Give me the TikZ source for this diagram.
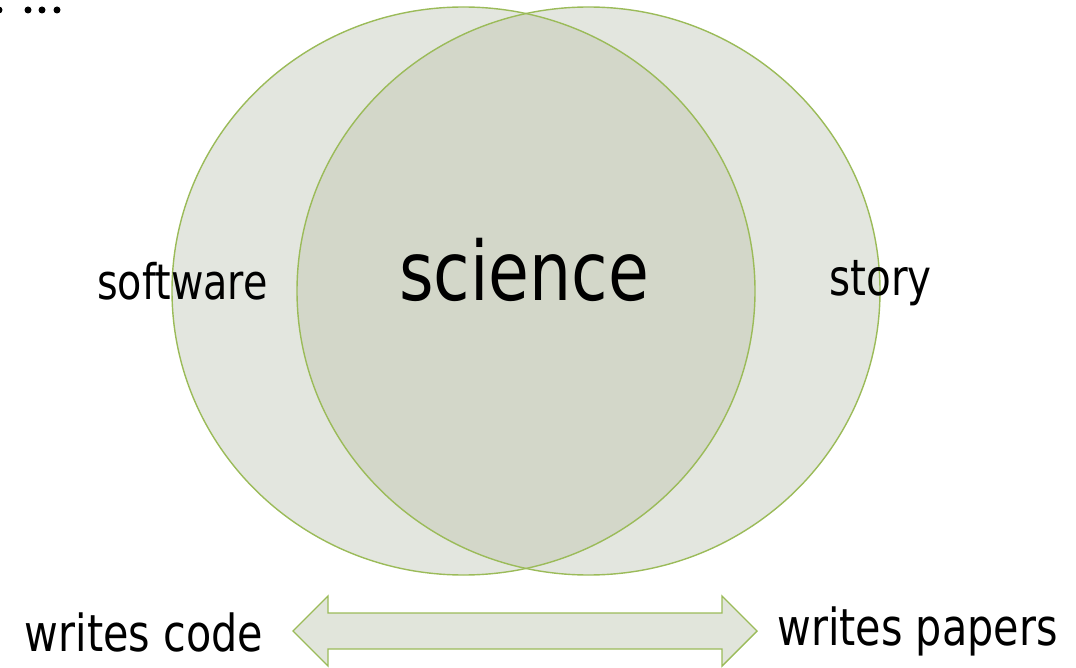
\documentclass[tikz,border=0pt]{standalone}
\usepackage{fontspec}
\setmainfont{DejaVu Sans}
\definecolor{vennline}{HTML}{9BBB59}
\definecolor{vennfill}{HTML}{E3E6DF}
\definecolor{venncore}{HTML}{D3D7C9}
\definecolor{arrowfill}{HTML}{E1E5DB}
\tikzset{
  label text/.style={inner sep=0pt, anchor=base, text=black},
  ring/.style={draw=vennline, line width=1.4pt},
  dot/.style={fill=black},
}
\newcommand{\narrow}[2]{\fontsize{#1}{#1}\selectfont\scalebox{0.81}[1]{#2}}
\begin{document}
\begin{tikzpicture}[x=1pt,y=-1pt]
  \useasboundingbox (0,0) rectangle (1076,668);

  % ellipsis in the corner
  \fill[dot] (-1,10) circle[radius=3.5pt];
  \fill[dot] (28,10) circle[radius=3.5pt];
  \fill[dot] (42,10) circle[radius=3.5pt];
  \fill[dot] (57,10) circle[radius=3.5pt];

  % the two sets
  \coordinate (L) at (463.5,291);
  \coordinate (R) at (588.5,291);
  \fill[vennfill] (L) ellipse[x radius=291.5pt, y radius=284pt];
  \fill[vennfill] (R) ellipse[x radius=291.5pt, y radius=284pt];
  \begin{scope}
    \clip (L) ellipse[x radius=291.5pt, y radius=284pt];
    \fill[venncore] (R) ellipse[x radius=291.5pt, y radius=284pt];
  \end{scope}
  \draw[ring] (L) ellipse[x radius=291.5pt, y radius=284pt];
  \draw[ring] (R) ellipse[x radius=291.5pt, y radius=284pt];

  % labels
  \node[label text] (science)  at (524,301)   {\narrow{82}{science}};
  \node[label text] (software) at (182.5,300) {\narrow{49}{software}};
  \node[label text] (story)    at (880.5,296) {\narrow{50}{story}};

  % double-headed arrow
  \draw[draw=vennline, fill=arrowfill, line width=1.4pt, line join=miter]
    (293,631) -- (328,596) -- (328,613) -- (722,613) -- (722,596)
    -- (757,631) -- (722,666) -- (722,649) -- (328,649) -- (328,666) -- cycle;

  \node[label text] (code)   at (144,651)   {\narrow{51}{writes code}};
  \node[label text] (papers) at (917.5,645) {\narrow{51}{writes papers}};
\end{tikzpicture}
\end{document}
